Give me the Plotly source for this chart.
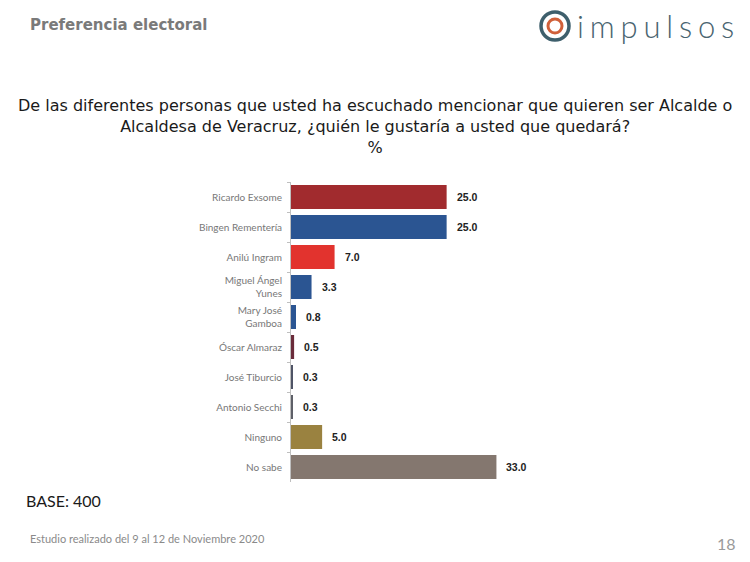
import plotly.graph_objects as go

categories = ["Ricardo Exsome", "Bingen Rementería", "Anilú Ingram", "Miguel Ángel<br>Yunes",
              "Mary José<br>Gamboa", "Óscar Almaraz", "José Tiburcio", "Antonio Secchi",
              "Ninguno", "No sabe"]
values = [25.0, 25.0, 7.0, 3.3, 0.8, 0.5, 0.3, 0.3, 5.0, 33.0]
colors = ["#A12B2E", "#2B5592", "#E2332E", "#2B5592", "#2B5592", "#6A2B3A",
          "#4F5466", "#5E6068", "#9A8240", "#84776F"]
labels = [f"{v:.1f}" for v in values]

fig = go.Figure()
fig.add_trace(go.Bar(
    y=categories, x=values, orientation="h",
    marker=dict(color=colors, line=dict(width=0)),
    width=0.8, hoverinfo="x+y",
))

fig.update_layout(
    width=750, height=562, margin=dict(l=0, r=0, t=0, b=0),
    paper_bgcolor="white", plot_bgcolor="white", showlegend=False,
    xaxis=dict(domain=[291/750, 540/750], range=[0, 40], visible=False),
    yaxis=dict(domain=[1-482/562, 1-182/562], autorange="reversed",
               showline=True, linecolor="#BFBFBF", linewidth=1,
               ticks="outside", tickson="boundaries", ticklen=3, tickcolor="#BFBFBF",
               tickfont=dict(family="Lato, Noto Sans", size=10, color="#777777"),
               ticklabelstandoff=6),
)

ann = []
for c, v, t in zip(categories, values, labels):
    ann.append(dict(text=t, x=v, y=c, xref="x", yref="y", xanchor="left", yanchor="middle",
                    xshift=8, showarrow=False,
                    font=dict(family="Arial, Liberation Sans", size=10.5, color="#222222", weight="bold")))

sp = "\u2009\u200a"
paper = [
    dict(text="Preferencia electoral", x=28/750, y=1-25/562, xanchor="left", yanchor="middle",
         font=dict(family="DejaVu Sans", size=15, color="#7A7A7A", weight=600)),
    dict(text="De las diferentes personas que usted ha escuchado mencionar que quieren ser Alcalde o<br>"
              "Alcaldesa de Veracruz, ¿quién le gustaría a usted que quedará?<br>%",
         x=0.5, y=1-94/562, xanchor="center", yanchor="top", align="center",
         font=dict(family="DejaVu Sans", size=16, color="#1A1A1A")),
    dict(text="BASE: 400", x=24/750, y=1-500/562, xanchor="left", yanchor="middle",
         font=dict(family="Lato, Noto Sans", size=16, color="#1A1A1A")),
    dict(text="Estudio realizado del 9 al 12 de Noviembre 2020", x=28/750, y=1-538/562,
         xanchor="left", yanchor="middle",
         font=dict(family="Lato, Noto Sans", size=11, color="#8A8A8A")),
    dict(text="18", x=738/750, y=1-543/562, xanchor="right", yanchor="middle",
         font=dict(family="Lato, Noto Sans", size=16, color="#9A9A9A")),
    dict(text=sp.join("impulsos"), x=575/750, y=1-26/562,
         xanchor="left", yanchor="middle",
         font=dict(family="Lato, Noto Sans", size=31, color="#4A6470", weight=300)),
]
for a in paper:
    a.update(xref="paper", yref="paper", showarrow=False)
fig.update_layout(annotations=ann + paper)

# logo rings
fig.add_shape(type="circle", xref="paper", yref="paper",
              x0=541/750, x1=569/750, y0=1-40/562, y1=1-12/562,
              line=dict(color="#3E5F6C", width=3.5))
fig.add_shape(type="circle", xref="paper", yref="paper",
              x0=548/750, x1=562/750, y0=1-33/562, y1=1-19/562,
              line=dict(color="#D0603A", width=3))

fig.write_html("out.html")
